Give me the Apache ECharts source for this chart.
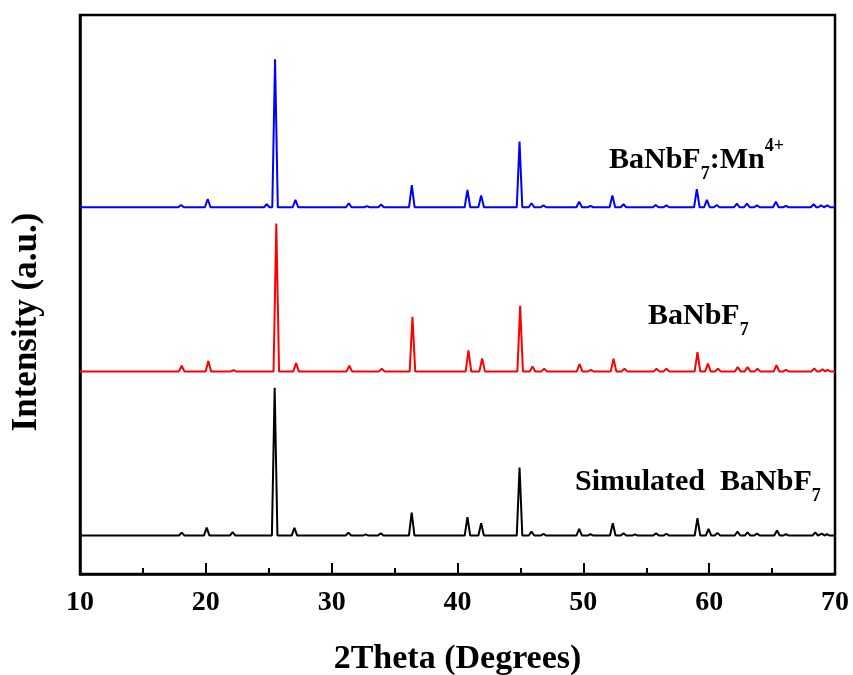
<!DOCTYPE html>
<html>
<head>
<meta charset="utf-8">
<script src="https://cdn.jsdelivr.net/npm/echarts@6/dist/echarts.min.js"></script>
<style>
  html, body { margin: 0; padding: 0; background: #fff; }
  #chart { width: 853px; height: 675px; }
</style>
</head>
<body>
<div id="chart"></div>
<script>
// peak positions (2theta) and relative heights
var simPos = [18.08, 20.07, 22.13, 25.47, 27.04, 31.33, 32.7, 33.9, 36.36, 40.79, 41.88, 44.93, 45.88, 46.83, 49.67, 50.57, 52.34, 53.19, 54.1, 55.78, 56.6, 59.07, 59.95, 60.66, 62.25, 63.05, 63.8, 65.39, 66.1, 68.43, 68.95, 69.35];
var simInt = [2, 5.4, 2.3, 100, 5.2, 2, 0.8, 1.6, 15.5, 12.4, 8.3, 46, 2.7, 1.1, 4.5, 1, 8.3, 1.5, 0.8, 1.5, 1.2, 11.7, 4.5, 1.8, 2.7, 2.2, 1.3, 3.4, 1, 2.2, 1.3, 1];

var hostPos = [18.08, 20.2, 22.2, 25.6, 27.17, 31.4, 33.98, 36.42, 40.87, 41.96, 44.98, 45.96, 46.89, 49.7, 50.6, 52.4, 53.27, 55.82, 56.6, 59.07, 59.9, 60.7, 62.27, 63.05, 63.84, 65.35, 66.1, 68.35, 69.0, 69.4];
var hostInt = [3.8, 7, 0.8, 100, 5.6, 3.8, 1.8, 37, 14.2, 8.8, 44.4, 3.4, 1.8, 5, 1, 8.6, 1.8, 1.8, 1.8, 13, 5.2, 1.8, 3, 3, 1.8, 4.3, 1, 2, 1.5, 1];

var dopedPos = [18.03, 20.15, 24.84, 25.5, 27.12, 31.36, 32.8, 33.93, 36.37, 40.79, 41.88, 44.93, 45.88, 46.83, 49.67, 50.57, 52.31, 53.19, 55.75, 56.6, 59.02, 59.82, 60.6, 62.2, 63.0, 63.8, 65.3, 66.1, 68.3, 68.9, 69.4];
var dopedInt = [1.5, 5.6, 2, 100, 5, 2.7, 0.8, 1.8, 15, 11.7, 7.9, 44.4, 2.7, 1.3, 3.8, 1, 7.9, 2, 1.5, 1.3, 12.2, 5, 1.5, 2.5, 2.5, 1.3, 3.8, 1, 2, 1.3, 1.3];

// vertical stacking offsets: simulated, BaNbF7, BaNbF7:Mn4+
var offsets = [0, 111, 222];
var colors = ['#000000', '#ff0000', '#0000ff'];
var xTicks = [10, 20, 30, 40, 50, 60, 70];

var font = '"Times New Roman", "Liberation Serif", serif';

// builds a line: flat baseline with a narrow peak at each position
function pattern(pos, ints, off) {
  var w = 0.22;
  var pts = [[xTicks[0], off]];
  for (var i = 0; i < pos.length; i++) {
    pts.push([pos[i] - w, off]);
    pts.push([pos[i], off + ints[i]]);
    pts.push([pos[i] + w, off]);
  }
  pts.push([xTicks[xTicks.length - 1], off]);
  return pts;
}

var sets = [[simPos, simInt], [hostPos, hostInt], [dopedPos, dopedInt]];
var series = sets.map(function (s, i) {
  return {
    type: 'line',
    data: pattern(s[0], s[1], offsets[i]),
    showSymbol: false,
    lineStyle: { color: colors[i], width: 2 },
    silent: true,
    z: 3 - i
  };
});

var chart = echarts.init(document.getElementById('chart'));

var labelRich = {
  b: { fontFamily: font, fontWeight: 'bold', fontSize: 30, lineHeight: 46, verticalAlign: 'middle', fill: '#000' },
  sub: { fontFamily: font, fontWeight: 'bold', fontSize: 18, lineHeight: 18, verticalAlign: 'bottom', fill: '#000' },
  sup: { fontFamily: font, fontWeight: 'bold', fontSize: 18, lineHeight: 26, verticalAlign: 'top', fill: '#000' }
};

chart.setOption({
  animation: false,
  grid: {
    left: 80, right: 18, top: 15, bottom: 101,
    outerBoundsMode: 'none',
    show: true, borderColor: '#000', borderWidth: 2.5
  },
  xAxis: {
    type: 'value',
    min: 10, max: 70, interval: 10,
    name: '2Theta (Degrees)',
    nameLocation: 'middle',
    nameGap: 68,
    nameTextStyle: { fontFamily: font, fontWeight: 'bold', fontSize: 34, color: '#000' },
    axisLine: { onZero: false, lineStyle: { color: '#000', width: 2.5 } },
    axisTick: { inside: true, length: 11, lineStyle: { color: '#000', width: 2 } },
    minorTick: { show: true, splitNumber: 2, length: 6, lineStyle: { color: '#000', width: 2 } },
    axisLabel: { fontFamily: font, fontWeight: 'bold', fontSize: 28, color: '#000', margin: 15 },
    splitLine: { show: false }
  },
  yAxis: {
    type: 'value',
    min: -26, max: 352,
    axisLine: { show: true, onZero: false, lineStyle: { color: '#000', width: 2.5 } },
    axisTick: { show: false },
    axisLabel: { show: false },
    splitLine: { show: false }
  },
  series: series,
  graphic: [
    {
      type: 'text', x: 27, y: 322, rotation: Math.PI / 2,
      style: {
        text: 'Intensity (a.u.)', fontFamily: font, fontWeight: 'bold', fontSize: 35,
        fill: '#000', align: 'center', verticalAlign: 'middle'
      }
    },
    {
      type: 'text', left: 609, top: 137,
      style: { text: '{b|BaNbF}{sub|7}{b|:Mn}{sup|4+}', rich: labelRich }
    },
    {
      type: 'text', left: 648, top: 301,
      style: { text: '{b|BaNbF}{sub|7}', rich: labelRich }
    },
    {
      type: 'text', left: 575, top: 467,
      style: { text: '{b|Simulated  BaNbF}{sub|7}', rich: labelRich }
    }
  ]
});
</script>
</body>
</html>
